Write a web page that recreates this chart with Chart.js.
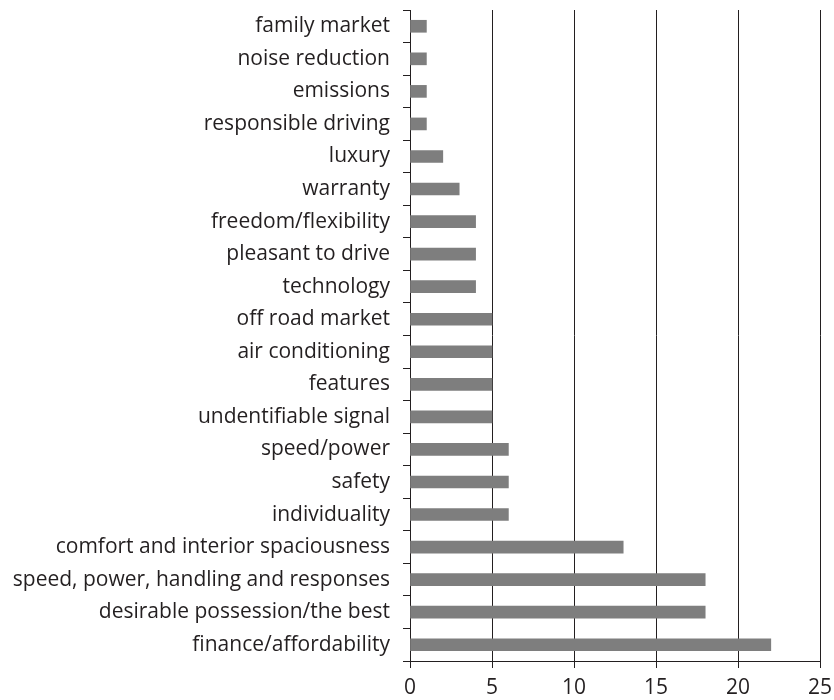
<!DOCTYPE html>
<html>
  <head>
    <meta charset="UTF-8">
    <title>Purchase factors</title>
    <script src="https://cdn.jsdelivr.net/npm/chart.js"></script>
    <style>
      html, body { margin: 0; padding: 0; background: #fff; }
      #wrap { width: 834px; height: 700px; }
    </style>
  </head>
  <body>
    <div id="wrap"><canvas id="myChart"></canvas></div>
    <script>
      // categories, top to bottom
      const categories = [
        'family market', 'noise reduction', 'emissions', 'responsible driving',
        'luxury', 'warranty', 'freedom/flexibility', 'pleasant to drive',
        'technology', 'off road market', 'air conditioning', 'features',
        'undentifiable signal', 'speed/power', 'safety', 'individuality',
        'comfort and interior spaciousness', 'speed, power, handling and responses',
        'desirable possession/the best', 'finance/affordability'
      ];
      const counts = [1, 1, 1, 1, 2, 3, 4, 4, 4, 5, 5, 5, 5, 6, 6, 6, 13, 18, 18, 22];
      const xTicks = [0, 5, 10, 15, 20, 25];

      const ink = '#231f20';
      const font = { family: "'Open Sans', sans-serif", size: 21 };

      const ctx = document.getElementById('myChart').getContext('2d');
      const chart = new Chart(ctx, {
        type: 'bar',
        data: {
          labels: categories,
          datasets: [{
            data: counts,
            backgroundColor: '#7e7e7e',
            borderWidth: 0,
            barThickness: 12
          }]
        },
        options: {
          indexAxis: 'y',
          responsive: true,
          maintainAspectRatio: false,
          animation: false,
          layout: { padding: { top: 10, right: 14, left: 0, bottom: 0 } },
          plugins: { legend: { display: false }, tooltip: { enabled: false } },
          scales: {
            x: {
              min: 0,
              max: 25,
              afterBuildTicks: (axis) => { axis.ticks = xTicks.map(v => ({ value: v })); },
              afterFit: (axis) => {
                axis.height = 39;
                axis.paddingLeft = 0;
                axis.paddingRight = 0;
              },
              grid: { color: ink, lineWidth: 1, tickLength: 7, drawOnChartArea: true },
              border: { color: ink, width: 1 },
              ticks: { color: ink, font: font, padding: 7, maxRotation: 0 }
            },
            y: {
              afterFit: (axis) => {
                axis.width = 410;
                axis.paddingTop = 0;
                axis.paddingBottom = 0;
              },
              grid: { color: ink, lineWidth: 1, tickLength: 7, drawOnChartArea: false, offset: true },
              border: { color: ink, width: 1 },
              ticks: { color: ink, font: font, padding: 13, autoSkip: false }
            }
          }
        }
      });
    </script>
  </body>
</html>
